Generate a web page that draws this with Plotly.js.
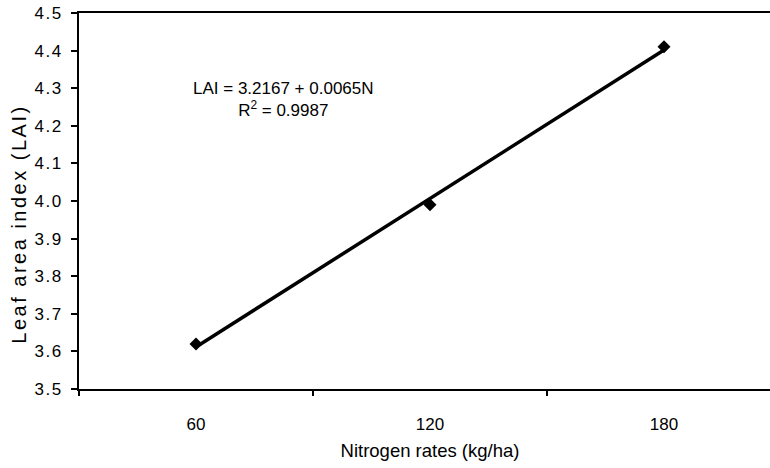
<!DOCTYPE html>
<html><head><meta charset="utf-8">
<script src="https://cdn.plot.ly/plotly-3.0.1.min.js"></script>
<style>html,body{margin:0;padding:0;overflow:hidden;background:#fff}
.ytick text{letter-spacing:1.5px}
</style>
</head><body>
<div id="chart" style="width:800px;height:468px"></div>
<script>
const nitrogen = [60, 120, 180];
const lai = [3.62, 3.99, 4.41];
const xTickLabels = [60, 120, 180];
const xTickMarks = [30, 90, 150, 210];
const equationText = 'LAI = 3.2167 + 0.0065N<br>R<sup>2</sup> = 0.9987';
const yTitle = 'Leaf area index (LAI)';
const xTitle = 'Nitrogen rates (kg/ha)';

// least-squares trend line from the data
const n = nitrogen.length;
const mx = nitrogen.reduce((a,b)=>a+b,0)/n;
const my = lai.reduce((a,b)=>a+b,0)/n;
let sxy=0, sxx=0;
for (let i=0;i<n;i++){ sxy += (nitrogen[i]-mx)*(lai[i]-my); sxx += (nitrogen[i]-mx)**2; }
const slope = sxy/sxx, intercept = my - slope*mx;
const trendX = [nitrogen[0], nitrogen[n-1]];
const trendY = trendX.map(x => intercept + slope*x);

const fam = 'Liberation Sans, Arial, sans-serif';
const font = {family:fam, size:17, color:'#000'};
const data = [
  {x: trendX, y: trendY, mode:'lines', line:{color:'#000', width:3.5}, hoverinfo:'skip'},
  {x: nitrogen, y: lai, mode:'markers', marker:{symbol:'diamond', size:10, color:'#000'}},
  {x:[30], y:[3.5], xaxis:'x2', yaxis:'y', mode:'markers', marker:{opacity:0}, hoverinfo:'skip'}
];
const layout = {
  width:800, height:468, showlegend:false,
  margin:{l:79, r:19, t:13, b:79},
  paper_bgcolor:'#fff', plot_bgcolor:'#fff', font: font,
  xaxis:{range:[30,210], tickvals:xTickLabels, ticktext:xTickLabels.map(String), ticks:'',
         showgrid:false, zeroline:false, showline:true, linecolor:'#000', linewidth:2, mirror:true,
         ticklabelstandoff:19, tickfont:font,
         title:{text:xTitle, font:{family:fam, size:18.5, color:'#000'}, standoff:11}},
  xaxis2:{range:[30,210], overlaying:'x', anchor:'y', side:'bottom', tickvals:xTickMarks,
          showticklabels:false, ticks:'outside', ticklen:6, tickwidth:2, tickcolor:'#000',
          showgrid:false, zeroline:false, showline:false},
  yaxis:{range:[3.5,4.5], dtick:0.1, tick0:3.5, tickformat:'.1f', ticks:'outside', ticklen:6, tickwidth:2,
         tickcolor:'#000', showgrid:false, zeroline:false, showline:true, linecolor:'#000', linewidth:2,
         mirror:true, tickfont:font, ticklabelstandoff:5},
  annotations:[
    {xref:'x', yref:'y', x:82.5, y:4.27, text:equationText, showarrow:false, font:font, align:'center'},
    {xref:'paper', yref:'paper', x:-0.0862, y:0.439, text:yTitle, textangle:-90, showarrow:false,
     font:{family:fam, size:20, color:'#000'}, xanchor:'center', yanchor:'middle'}
  ]
};
Plotly.newPlot('chart', data, layout, {displayModeBar:false, staticPlot:true}).then(gd => {
  gd.querySelectorAll('.annotation-text').forEach(t => {
    if (t.textContent === yTitle) t.style.letterSpacing = '2.5px';
  });
});
</script>
</body></html>
